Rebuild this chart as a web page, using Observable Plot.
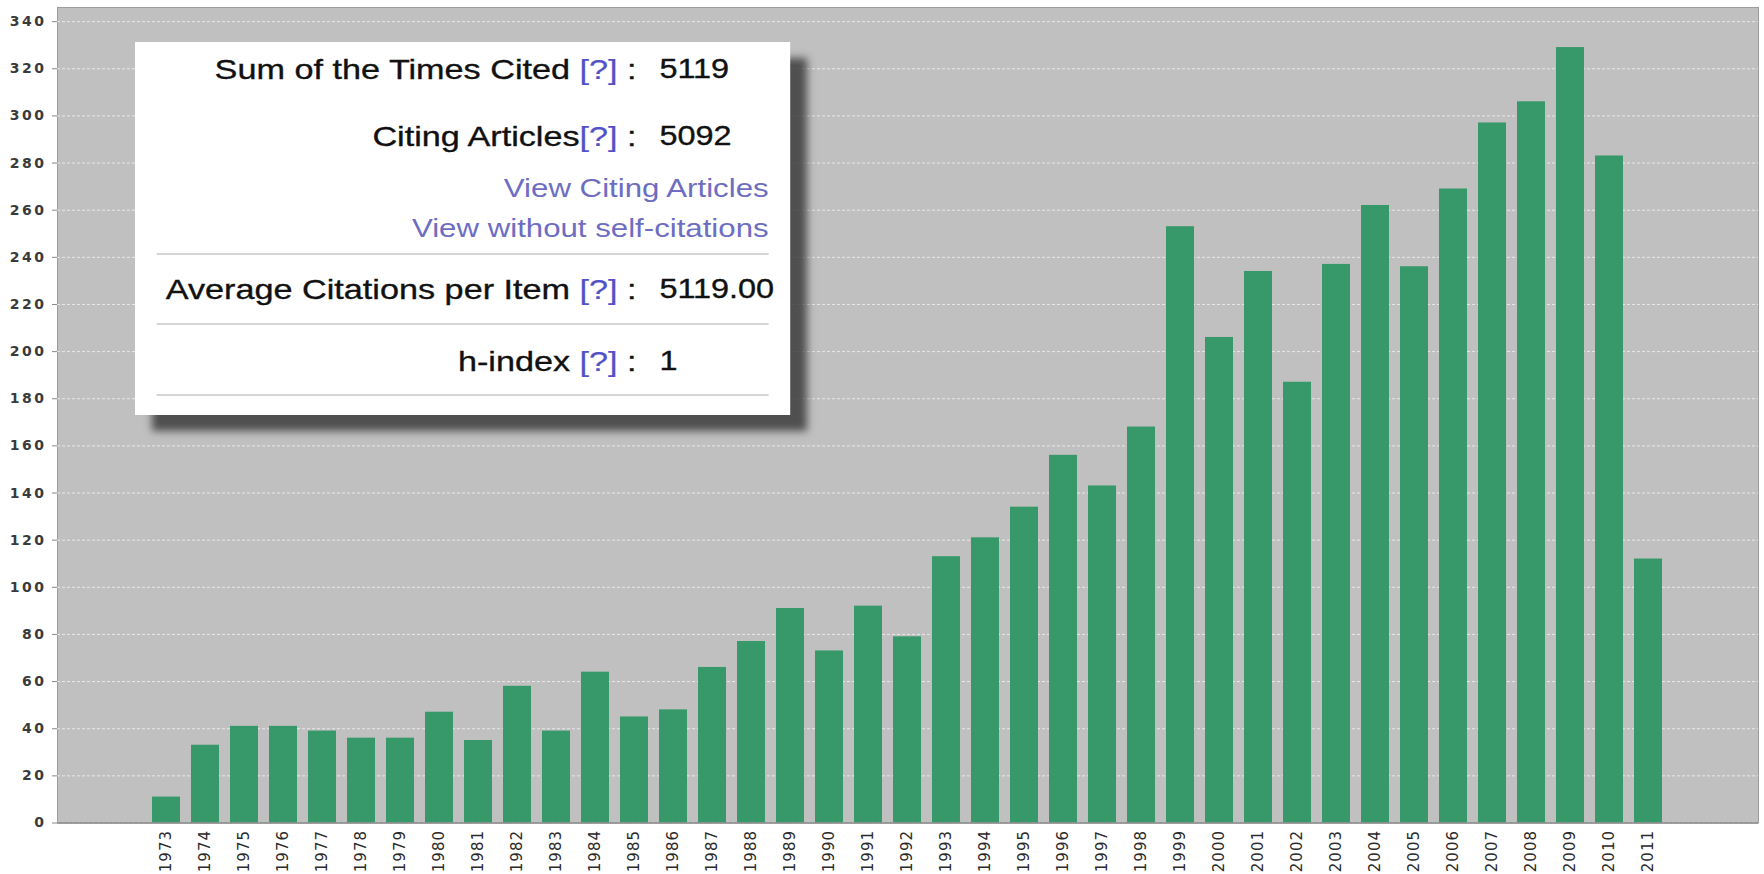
<!DOCTYPE html>
<html>
<head>
<meta charset="utf-8">
<script src="https://cdn.jsdelivr.net/npm/d3@7"></script>
<script src="https://cdn.jsdelivr.net/npm/@observablehq/plot@0.6"></script>
<style>
  html, body { margin: 0; padding: 0; background: #fff; }
  #wrap { position: relative; width: 1764px; height: 874px; overflow: hidden; }
  #wrap svg text { letter-spacing: 1px; }
  #wrap svg g[aria-label="y-axis tick label"] text { letter-spacing: 2.5px; }
  .box {
    position: absolute; left: 135px; top: 42px; width: 546px; height: 373px;
    background: #fff; transform: scaleX(1.2); transform-origin: 0 0;
    box-shadow: 14px 16px 7px rgba(60,60,60,0.85);
    font-family: "Liberation Sans", Arial, sans-serif; color: #111;
  }
  .lab, .val { -webkit-text-stroke: 0.35px #111; }
  .lab { position: absolute; right: 128px; font-size: 28.5px; line-height: 32px; white-space: nowrap; text-align: right; }
  .val { position: absolute; left: 437px; font-size: 27px; line-height: 32px; white-space: nowrap; }
  .q { color: #5252c6; -webkit-text-stroke: 0.2px #5252c6; }
  .link { position: absolute; right: 18px; font-size: 26px; line-height: 30px; color: #6d6dc2; white-space: nowrap; }
  .sep { position: absolute; left: 18px; width: 510px; height: 2px; background: #d6d6d6; }
</style>
</head>
<body>
<div id="wrap"></div>
<script>
// ---- data ----
const years = [1973, 1974, 1975, 1976, 1977, 1978, 1979, 1980, 1981, 1982,
               1983, 1984, 1985, 1986, 1987, 1988, 1989, 1990, 1991, 1992,
               1993, 1994, 1995, 1996, 1997, 1998, 1999, 2000, 2001, 2002,
               2003, 2004, 2005, 2006, 2007, 2008, 2009, 2010, 2011];
const citations = [11, 33, 41, 41, 39, 36, 36, 47, 35, 58,
                   39, 64, 45, 48, 66, 77, 91, 73, 92, 79,
                   113, 121, 134, 156, 143, 168, 253, 206, 234, 187,
                   237, 262, 236, 269, 297, 306, 329, 283, 112];
const yTicks = [0, 20, 40, 60, 80, 100, 120, 140, 160, 180, 200, 220, 240, 260, 280, 300, 320, 340];

const summaryLabels = ["Sum of the Times Cited", "Citing Articles", "Average Citations per Item", "h-index"];
const summaryValues = ["5119", "5092", "5119.00", "1"];
const linkTexts = ["View Citing Articles", "View without self-citations"];

const data = years.map((year, i) => ({year, count: citations[i]}));

const chart = Plot.plot({
  width: 1764,
  height: 874,
  marginLeft: 57,
  marginRight: 6,
  marginTop: 7,
  marginBottom: 51.5,
  style: {fontFamily: "DejaVu Sans", fontSize: "14px", color: "#333", background: "#fff"},
  x: {type: "band", domain: years, paddingInner: 0.27, paddingOuter: 2.135, align: 0.5, label: null},
  y: {domain: [0, 346], label: null},
  marks: [
    Plot.frame({fill: "#c0c0c0", stroke: "#9c9c9c"}),
    Plot.gridY(yTicks, {stroke: "#f2f2f2", strokeOpacity: 0.8, strokeDasharray: "3,2"}),
    Plot.barY(data, {x: "year", y: "count", fill: "#37996a"}),
    Plot.ruleY([0], {stroke: "#8a8a8a", strokeWidth: 1.5}),
    Plot.axisY(yTicks, {tickSize: 5, tickPadding: 6, stroke: "#888", fill: "#3a3a3a", fontWeight: "bold", fontSize: 14, label: null}),
    Plot.axisX(years, {tickRotate: -90, tickSize: 0, tickPadding: 7, fill: "#2a2a2a", fontSize: 15, tickFormat: d => String(d), label: null})
  ]
});
const wrap = document.getElementById("wrap");
wrap.appendChild(chart);

// ---- summary box overlay ----
const box = document.createElement("div");
box.className = "box";
const q = '<span class="q">[?]</span>';
const rows = [
  {label: summaryLabels[0] + " " + q + " :", value: summaryValues[0], top: 11},
  {label: summaryLabels[1] + q + " :", value: summaryValues[1], top: 78},
  {label: summaryLabels[2] + " " + q + " :", value: summaryValues[2], top: 231},
  {label: summaryLabels[3] + " " + q + " :", value: summaryValues[3], top: 303}
];
let html = "";
for (const r of rows) {
  html += `<div class="lab" style="top:${r.top}px">${r.label}</div>`;
  html += `<div class="val" style="top:${r.top}px">${r.value}</div>`;
}
html += `<div class="link" style="top:131px">${linkTexts[0]}</div>`;
html += `<div class="link" style="top:171px">${linkTexts[1]}</div>`;
html += `<div class="sep" style="top:211px"></div>`;
html += `<div class="sep" style="top:281px"></div>`;
html += `<div class="sep" style="top:352px"></div>`;
box.innerHTML = html;
wrap.appendChild(box);
</script>
</body>
</html>
